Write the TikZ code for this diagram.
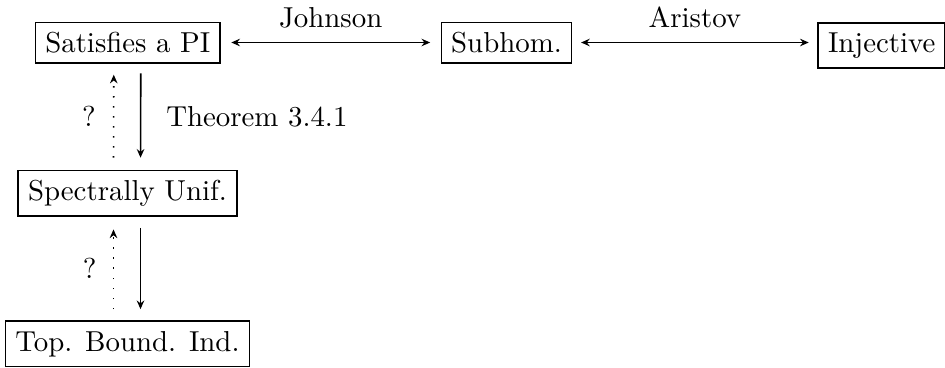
\documentclass[tikz,border=0pt]{standalone}
\usetikzlibrary{arrows.meta,calc}
\begin{document}
\begin{tikzpicture}[x=0.3466pt,y=-0.3466pt,
  tip/.tip={Stealth[length=3pt,width=2.6pt,inset=1pt]},
  box/.style={draw,line width=0.55pt,inner sep=3.4pt,anchor=base},
  imp/.style={-tip, line width=0.55pt},
  biimp/.style={tip-tip, line width=0.55pt},
  dotimp/.style={-tip, line width=0.55pt, dash pattern=on 0.55pt off 2.92pt},
  lbl/.style={inner sep=0pt}
]
\useasboundingbox (0,0) rectangle (945,367);

\node[box] (sat) at (127.8,52.5) {Satisfies a PI};
\node[box] (sub) at (506.5,52.5) {Subhom.};
\node[box] (inj) at (881.7,52.5) {Injective};
\node[box] (spec) at (127.5,200.5) {Spectrally Unif.};
\node[box] (tbi) at (127.5,351) {Top. Bound. Ind.};

% horizontal equivalences (on the math axis of the top row)
\draw[biimp, shorten <=3.6pt, shorten >=3.6pt]
  ($(sat.base east)+(0,-10)$) -- ($(sub.base west)+(0,-10)$)
  node[midway, anchor=base, yshift=5.3pt] (lj) {Johnson};
\draw[biimp, shorten <=3pt, shorten >=3pt]
  ($(sub.base east)+(0,-10)$) -- ($(inj.base west)+(0,-10)$)
  node[midway, anchor=base, yshift=5.3pt] (la) {Aristov};

% upper vertical
\draw[imp, shorten <=3.3pt, shorten >=4.1pt]
  ($(sat.south)+(13,0)$) -- ($(spec.north)+(13,0)$)
  node[midway, right=8.6pt, lbl] (lt) {Theorem 3.4.1};
\draw[dotimp, shorten <=4.1pt, shorten >=3.8pt]
  ($(spec.north)+(-14,0)$) -- ($(sat.south)+(-14,0)$)
  node[midway, left=5.9pt, lbl] (lq1) {?};

% lower vertical
\draw[imp, shorten <=3.8pt, shorten >=3.9pt]
  ($(spec.south)+(13,0)$) -- ($(tbi.north)+(13,0)$);
\draw[dotimp, shorten <=3.9pt, shorten >=4.3pt]
  ($(tbi.north)+(-14,0)$) -- ($(spec.south)+(-14,0)$)
  node[midway, left=5.6pt, lbl] (lq2) {?};
\end{tikzpicture}
\end{document}
